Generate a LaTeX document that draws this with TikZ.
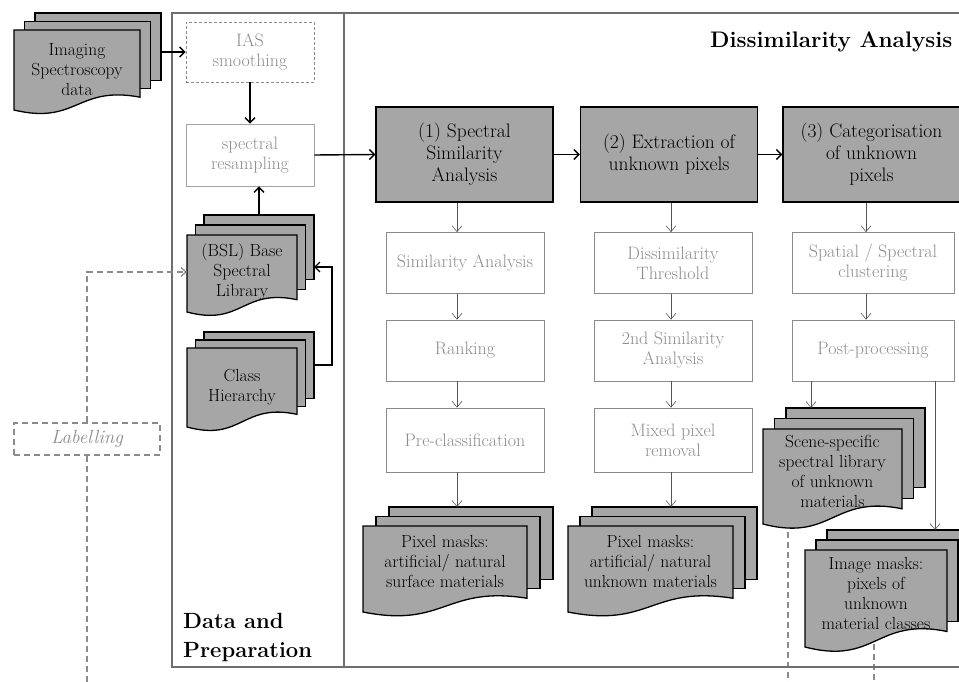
\documentclass[tikz,border=0pt]{standalone}
\usetikzlibrary{arrows.meta,backgrounds}

\definecolor{docgray}{HTML}{A6A6A6}
\definecolor{framegray}{HTML}{6E6E6E}
\definecolor{subline}{HTML}{8A8A8A}
\definecolor{subtext}{HTML}{8C8C8C}
\definecolor{arrowgray}{HTML}{555555}

\newcommand{\mainsize}{\fontsize{19.5}{22}\selectfont}
\newcommand{\docsize}{\fontsize{17.5}{20}\selectfont}
\newcommand{\subsize}{\fontsize{18}{20}\selectfont}

% stacked documents with a wavy bottom edge
\newcommand{\multidoc}[9]{%
  \draw[docpage] ({#2+2*#6},{#3-2*#7}) rectangle ({#2+#4+2*#6},{#3+0.84*#5-2*#7});
  \draw[docpage] ({#2+#6},{#3-#7}) rectangle ({#2+#4+#6},{#3+0.84*#5-#7});
  \draw[docpage] (#2,#3) -- (#2,{#3+#5})
    .. controls ({#2+0.5*#4},{#3+1.19*#5}) and ({#2+0.5*#4},{#3+0.69*#5}) .. ({#2+#4},{#3+0.84*#5})
    -- ({#2+#4},#3) -- cycle;
  \node[doctext, minimum width=#4, minimum height=#5] (#1) at ({#2+0.5*#4},{#3+#8*#5}) {#9};
  \coordinate (#1-top) at ({#2+0.5*#4+2*#6},{#3-2*#7});
  \coordinate (#1-right) at ({#2+#4+2*#6},{#3+0.42*#5-2*#7});
}

\tikzset{
  mainbox/.style={draw, line width=1.3pt, fill=docgray, minimum width=177, minimum height=95, align=center, font=\mainsize},
  subbox/.style={draw=subline, line width=0.7pt, minimum width=158, minimum height=61, align=center, text=subtext, font=\subsize},
  docpage/.style={draw, line width=1.3pt, fill=docgray},
  doctext/.style={align=center, font=\docsize, inner sep=0pt},
  flow/.style={-{Straight Barb[length=5pt,width=10pt]}, line width=1.4pt},
  thinflow/.style={-{Straight Barb[length=6pt,width=10pt]}, line width=0.6pt, draw=arrowgray},
  labelline/.style={dash pattern=on 6pt off 4pt, line width=1.2pt, draw=framegray!80},
  frameline/.style={draw=framegray, line width=2pt},
}

\begin{document}
\begin{tikzpicture}[x=1pt,y=-1pt]
  \useasboundingbox (0,0) rectangle (959,682);

  % frames and titles
  \draw[frameline] (172,13) rectangle (344,667);
  \draw[frameline] (344,13) rectangle (980,667);
  \node[anchor=base west, inner sep=0pt, font=\fontsize{22.5}{26}\selectfont\bfseries] (dissTitle) at (710,48) {Dissimilarity Analysis};
  \node[anchor=south west, inner sep=0pt, align=left, font=\fontsize{22}{29}\selectfont\bfseries] (prepTitle) at (183,662) {Data and\\Preparation};

  % data and preparation
  \node[subbox, draw=subtext, densely dashed, minimum width=128, minimum height=60] (ias) at (250,52) {IAS\\smoothing};
  \node[subbox, draw=subtext!80, minimum width=128, minimum height=62] (resamp) at (250,155) {spectral\\resampling};
  \multidoc{imaging}{14}{30}{126}{80}{10.5}{8.5}{0.49}{Imaging\\Spectroscopy\\data}
  \multidoc{bsl}{187}{235}{110}{77}{8.5}{10}{0.48}{(BSL) Base\\Spectral\\Library}
  \multidoc{hier}{187}{348}{110}{79}{8.5}{8}{0.5}{Class\\Hierarchy}
  \node[labelline, draw=framegray!80, minimum width=146, minimum height=32, text=subtext, font=\fontsize{19}{20}\selectfont\itshape] (labelling) at (87,439) {Labelling};

  % dissimilarity analysis
  \node[mainbox] (spec) at (464.5,154.5) {(1) Spectral\\Similarity\\Analysis};
  \node[mainbox] (extr) at (669,154.5) {(2) Extraction of\\unknown pixels};
  \node[mainbox] (categ) at (871.5,154.5) {(3) Categorisation\\of unknown\\pixels};

  \node[subbox] (simil) at (465,263) {Similarity Analysis};
  \node[subbox] (rank) at (465,350.5) {Ranking};
  \node[subbox, minimum height=64] (precl) at (465,440) {Pre-classification};
  \node[subbox] (dthr) at (673,263) {Dissimilarity\\Threshold};
  \node[subbox] (sim2) at (673,350.5) {2nd Similarity\\Analysis};
  \node[subbox, minimum height=64] (mixed) at (673,440) {Mixed pixel\\removal};
  \node[subbox, minimum width=162] (spcl) at (873,263) {Spatial / Spectral\\clustering};
  \node[subbox, minimum width=162] (post) at (873,350.5) {Post-processing};

  \multidoc{masksa}{363}{526}{164}{86}{13}{9.5}{0.41}{Pixel masks:\\artificial/ natural\\surface materials}
  \multidoc{masksb}{568}{526}{165}{86}{12}{9.5}{0.41}{Pixel masks:\\artificial/ natural\\unknown materials}
  \multidoc{scene}{763}{429}{139}{95}{11.5}{10.5}{0.45}{Scene-specific\\spectral library\\of unknown\\materials}
  \multidoc{imgmask}{805}{550}{142}{97}{11}{10}{0.45}{Image masks:\\pixels of\\unknown\\material classes}

  \coordinate (colA) at (457,0);
  \coordinate (colB) at (671,0);
  \coordinate (colC) at (866,0);
  \coordinate (toScene) at (811,0);
  \coordinate (toMasks) at (935,0);
  \coordinate (libin) at (332,267);
  \coordinate (labelout) at (87,690);
  \coordinate (sceneout) at (788,690);
  \coordinate (imgout) at (874,690);

  % main flow
  \draw[flow] (imaging-right |- ias.west) -- (ias.west);
  \draw[flow] (ias) -- (resamp);
  \draw[flow] (resamp.east) -- (spec.west);
  \draw[flow] (spec.east) -- (extr.west);
  \draw[flow] (extr.east) -- (categ.west);
  \draw[flow] (bsl-top) -- (bsl-top |- resamp.south);
  \draw[flow] (hier-right) -| (libin) -- (libin -| bsl-right);

  % steps
  \draw[thinflow] (spec.south -| colA) -- (simil.north -| colA);
  \draw[thinflow] (simil.south -| colA) -- (rank.north -| colA);
  \draw[thinflow] (rank.south -| colA) -- (precl.north -| colA);
  \draw[thinflow] (precl.south -| colA) -- (masksa-top -| colA);
  \draw[thinflow] (extr.south -| colB) -- (dthr.north -| colB);
  \draw[thinflow] (dthr.south -| colB) -- (sim2.north -| colB);
  \draw[thinflow] (sim2.south -| colB) -- (mixed.north -| colB);
  \draw[thinflow] (mixed.south -| colB) -- (masksb-top -| colB);
  \draw[thinflow] (categ.south -| colC) -- (spcl.north -| colC);
  \draw[thinflow] (spcl.south -| colC) -- (post.north -| colC);
  \draw[thinflow] (post.south -| toScene) -- (scene-top -| toScene);
  \draw[thinflow] (post.south -| toMasks) -- (imgmask-top -| toMasks);

  % labelling
  \draw[labelline, -{Straight Barb[length=5pt,width=9pt]}] (labelling.north) |- (bsl.west);
  \begin{pgfonlayer}{background}
    \draw[labelline] (labelling.south) -- (labelout);
    \draw[labelline] (scene.center -| sceneout) -- (sceneout);
    \draw[labelline] (imgmask.center -| imgout) -- (imgout);
  \end{pgfonlayer}
\end{tikzpicture}
\end{document}
